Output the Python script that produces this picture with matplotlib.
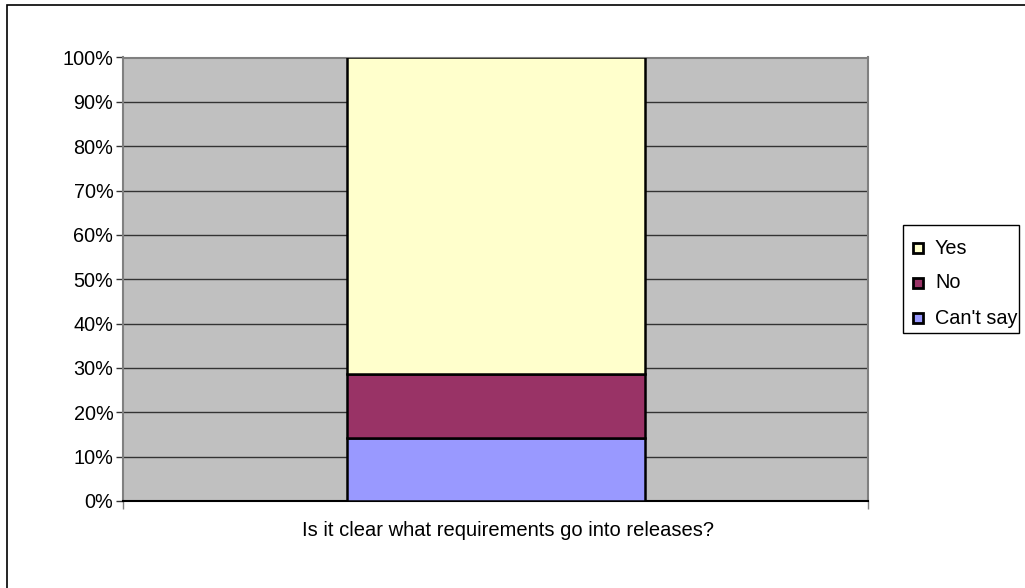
import matplotlib
matplotlib.use("Agg")
import matplotlib.pyplot as plt
from matplotlib.patches import Rectangle

plt.rcParams['font.family'] = ['Liberation Sans', 'DejaVu Sans']

# Survey responses (share of answers, %)
category = "Is it clear what requirements go into releases?"
series_names = ["Can't say", "No", "Yes"]
series_values = [100 / 7, 100 / 7, 500 / 7]
series_colors = ["#9999FF", "#993366", "#FFFFCC"]
y_ticks = [0, 10, 20, 30, 40, 50, 60, 70, 80, 90, 100]
y_tick_labels = [f"{t}%" for t in y_ticks]

FS = 14.3
W, H = 1025, 588


def fx(px):
    return px / W


def fy(py):
    return 1 - py / H


fig = plt.figure(figsize=(W / 100, H / 100), dpi=100)
fig.patch.set_facecolor("white")

# outer chart frame
fig.add_artist(Rectangle((fx(7), -0.05), 1.1, fy(5) + 0.05,
                         transform=fig.transFigure, fill=False,
                         edgecolor="black", linewidth=1.2))

ax = fig.add_axes([fx(123), fy(501), 745 / W, 443.5 / H])
ax.set_facecolor("#C0C0C0")

ax.set_xlim(0.5, 1.5)
ax.set_ylim(0, 100)

# gridlines
for t in y_ticks[1:]:
    ax.axhline(t, color="#333333", linewidth=1.0, zorder=1)

bottom = 0.0
for name, val, col in zip(series_names, series_values, series_colors):
    ax.bar(1, val, width=0.4, bottom=bottom, color=col, edgecolor="black",
           linewidth=1.8, label=name, zorder=3)
    bottom += val

ax.set_yticks(y_ticks)
ax.set_yticklabels(y_tick_labels, fontsize=FS)
ax.tick_params(axis="y", direction="out", length=5, width=1, color="#333333", pad=2)

ax.set_xticks([0.5, 1.5])
ax.set_xticklabels([])
ax.tick_params(axis="x", direction="out", length=6, width=1, color="#808080")
fig.text(fx(508), fy(530), category, ha="center", va="center", fontsize=14.5)

for side in ["left", "right", "top"]:
    ax.spines[side].set_color("#808080")
    ax.spines[side].set_linewidth(1.5)
ax.spines["bottom"].set_color("black")
ax.spines["bottom"].set_linewidth(1.5)

# legend box, entries listed top to bottom in stacking order reversed
fig.add_artist(Rectangle((fx(903), fy(333)), (1019 - 903) / W, (333 - 225) / H,
                         transform=fig.transFigure, facecolor="white",
                         edgecolor="black", linewidth=1.0, zorder=5))
row_y = [318, 283, 248]
for name, col, yc in zip(series_names, series_colors, row_y):
    fig.add_artist(Rectangle((fx(913), fy(yc + 5)), 10 / W, 10 / H,
                             transform=fig.transFigure, facecolor=col,
                             edgecolor="black", linewidth=2.0, zorder=6))
    fig.text(fx(935), fy(yc), name, ha="left", va="center",
             fontsize=FS, zorder=6)

fig.savefig("out.png", dpi=100, facecolor="white")
